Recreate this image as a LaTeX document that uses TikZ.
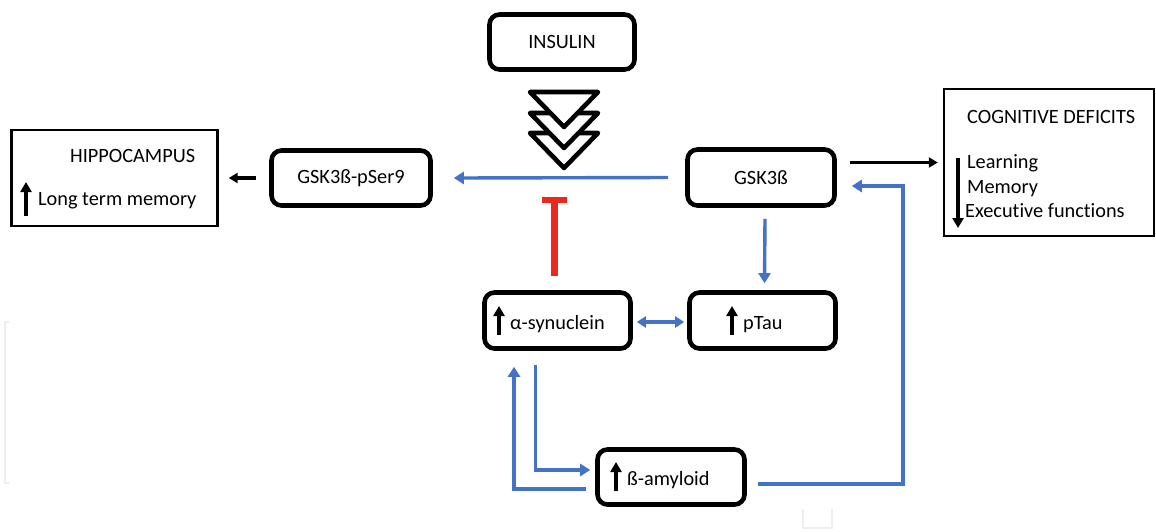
\documentclass[tikz,border=0pt]{standalone}
\usepackage{fontspec}
\setmainfont{Carlito}[Ligatures={NoCommon}]
\usetikzlibrary{arrows.meta,calc}
\definecolor{bl}{RGB}{68,114,196}
\definecolor{rd}{RGB}{235,40,30}
\definecolor{faint}{RGB}{238,238,238}
\begin{document}
\begin{tikzpicture}[x=1pt,y=-1pt,
  lbl/.style={font=\fontsize{20.3}{24}\selectfont},
  rbox/.style={draw=black,line width=4.6pt,rounded corners=10pt,inner sep=0pt,lbl},
  sbox/.style={draw=black,line width=2.4pt,inner sep=0pt},
  txt/.style={lbl,inner sep=0pt,anchor=base west},
  barrow/.style={draw=bl,line width=3.4pt,-{Triangle[length=10pt,width=12pt]}},
  bdarrow/.style={draw=bl,line width=3.4pt,{Triangle[length=9pt,width=11pt]}-{Triangle[length=9pt,width=11pt]}},
  karrow/.style={draw=black,line width=3.3pt,-{Triangle[length=9pt,width=10pt]}},
  uparr/.style={draw=black,line width=3.4pt,-{Triangle[length=10pt,width=11pt]}},
  chev/.style={draw=black,fill=white,line width=4.6pt,line join=round},
  ghost/.style={draw=faint,line width=2pt}
]
\useasboundingbox (0,0) rectangle (1156,531);

% faint artifacts
\draw[ghost] (9,322) -- (5,322) -- (5,483) -- (9,483);
\draw[ghost] (803,509) -- (803,528) -- (832,528) -- (832,509);

% boxes
\node[rbox,minimum width=145pt,minimum height=55pt] (ins) at (562,42) {INSULIN};
\node[rbox,minimum width=159pt,minimum height=55pt] (pser) at (351,178) {GSK3ß-pSer9};
\node[rbox,minimum width=147pt,minimum height=56pt] (gsk) at (761,177.5) {GSK3ß};
\node[rbox,minimum width=146pt,minimum height=56pt] (asyn) at (557.5,320.5) {};
\node[rbox,minimum width=146pt,minimum height=56pt] (ptau) at (762.5,320.5) {};
\node[rbox,minimum width=147pt,minimum height=55pt] (bamy) at (671,477) {};
\node[sbox,minimum width=206pt,minimum height=96pt] (hippo) at (114.5,178) {};
\node[sbox,minimum width=210pt,minimum height=147pt] (cog) at (1049,162.5) {};

% texts
\node[txt] (asynt) at (510,329) {α-synuclein};
\node[txt] (ptaut) at (743,329) {pTau};
\node[txt] (bamyt) at (627,485) {ß-amyloid};
\node[txt] (hippot) at (70,162) {HIPPOCAMPUS};
\node[txt] (ltm) at (38,205) {Long term memory};
\node[txt] (cogt) at (967,123) {COGNITIVE DEFICITS};
\node[txt] (learn) at (967,168) {Learning};
\node[txt] (mem) at (967,193) {Memory};
\node[txt] (exe) at (965,217) {Executive functions};

% glyph arrows
\draw[uparr] (499,335) -- (499,306);
\draw[uparr] (732,335) -- (732,306);
\draw[uparr] (616,491) -- (616,462);
\draw[uparr] (26,216) -- (26,182);
\draw[uparr] (958,158) -- (958,228);

% chevrons
\foreach \t in {133,113,92}{
  \draw[chev] (530,\t) -- (598,\t) -- (564,\t+35) -- cycle;
}

% connectors
\coordinate (blstart) at ($(gsk.west)+(-17,0)$);
\draw[barrow] (blstart) -- ($(pser.east)+(21,0)$);
\draw[karrow] ($(pser.west)+(-13,0)$) -- ($(hippo.east)+(10,0)$);
\draw[karrow] ($(gsk.east)+(13,-15)$) -- ($(cog.west)+(-5,0)$);
\draw[barrow] ($(gsk.south)+(4,11)$) -- ($(ptau.north)+(2,-7)$);
\draw[bdarrow] ($(asyn.east)+(4,1.5)$) -- ($(ptau.west)+(-3,1.5)$);
\draw[barrow] ($(asyn.south)+(-22,14)$) |- ($(bamy.west)+(-5,-7)$);
\draw[barrow] ($(bamy.west)+(-9,12)$) -| ($(asyn.south)+(-43.5,16)$);
\draw[barrow] ($(bamy.east)+(11,7)$) -| (903,186) -- ($(gsk.east)+(15,8.5)$);
\draw[draw=rd,line width=7pt] ($(asyn.north)+(-3,-14)$) -- ($(asyn.north)+(-3,-90)$);
\draw[draw=rd,line width=6pt] ($(asyn.north)+(-15.5,-90)$) -- ($(asyn.north)+(9.5,-90)$);
\end{tikzpicture}
\end{document}
